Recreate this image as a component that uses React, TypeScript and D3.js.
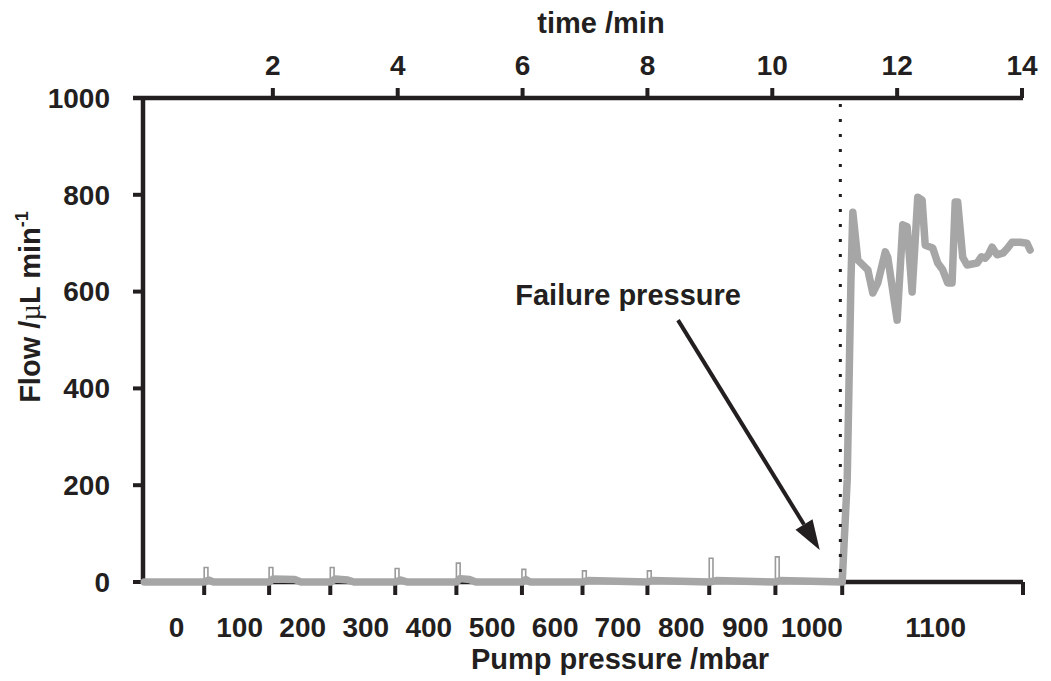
import React from "react";
import { scaleLinear, line } from "d3";

// top axis (time) ticks
const timeTicks = [2, 4, 6, 8, 10, 12, 14];
// left axis ticks
const flowTicks = [0, 200, 400, 600, 800, 1000];
// pressure labels along the bottom, one per pressure step
const pressureLabels = ["0", "100", "200", "300", "400", "500", "600", "700", "800", "900", "1000", "1100"];
// times (min) where the pump pressure was stepped up
const stepTimes = [0.9, 1.94, 2.92, 3.96, 4.94, 5.99, 6.96, 8.0, 8.99, 10.05, 11.12];
const failureTime = 11.09;

// small flow transients at every step (thin trace)
const spikeHeights = [30, 30, 30, 28, 39, 26, 23, 23, 49, 52];

// main flow trace
const flowTime = [
  -0.06, 0.9, 0.97, 1.05, 1.94, 2.0, 2.35, 2.45, 2.92, 3.0, 3.2, 3.3, 3.96, 4.05, 4.15,
  4.94, 5.0, 5.15, 5.25, 5.99, 6.05, 6.12, 6.96, 7.05, 8.0, 8.08, 8.99, 9.1, 10.05, 10.12,
  11.12, 11.2, 11.23, 11.26, 11.29, 11.37, 11.53, 11.61, 11.69, 11.81, 11.85, 12.0, 12.09,
  12.16, 12.24, 12.33, 12.4, 12.45, 12.57, 12.65, 12.73, 12.81, 12.88, 12.93, 12.97, 13.05,
  13.12, 13.28, 13.35, 13.41, 13.46, 13.52, 13.6, 13.7, 13.77, 13.84, 13.97, 14.08, 14.13,
];
const flowValue = [
  0, 0, 4, 0, 0, 6, 5, 0, 0, 6, 4, 0, 0, 4, 0,
  0, 7, 5, 0, 0, 5, 0, 0, 3, 0, 3, 0, 3, 0, 3,
  0, 211, 417, 624, 764, 665, 645, 597, 618, 682, 671, 541, 738,
  734, 599, 795, 789, 696, 690, 659, 645, 618, 618, 785, 785, 671,
  655, 659, 672, 669, 676, 692, 676, 680, 690, 702, 702, 700, 686,
];

// annotation
const annoText = "Failure pressure";
const annoPos = [7.69, 572];
const arrowFrom = [8.49, 541];
const arrowTo = [10.76, 66];

const ink = "#231f20";
const trace = "#a6a6a6";
const font = "'Liberation Sans', Arial, Helvetica, sans-serif";

export default function App() {
  const width = 1051;
  const height = 681;
  const left = 143;
  const top = 98;
  const bottom = 582;
  const right = 1023;

  const x = scaleLinear().domain([0, 14]).range([148, 1022]);
  const y = scaleLinear().domain([0, 1000]).range([bottom, top]);

  const flowLine = line<number>()
    .x((d, i) => x(flowTime[i]))
    .y((d) => y(d));

  const spikeW = 0.06;
  const spikeLine = line<[number, number]>()
    .x((d) => x(d[0]))
    .y((d) => y(d[1]));

  // boundaries of pressure steps for label placement
  const edges = [x.invert(left), ...stepTimes, x.invert(right)];

  const ax = x(arrowFrom[0]);
  const ay = y(arrowFrom[1]);
  const tx = x(arrowTo[0]);
  const ty = y(arrowTo[1]);
  const ang = Math.atan2(ty - ay, tx - ax);
  const headLen = 30;
  const headHalf = 10;
  const bx = tx - headLen * Math.cos(ang);
  const by = ty - headLen * Math.sin(ang);
  const px = -Math.sin(ang) * headHalf;
  const py = Math.cos(ang) * headHalf;

  return (
    <svg
      width={width}
      height={height}
      style={{ position: "absolute", left: 0, top: 0, background: "white" }}
      fontFamily={font}
      fontWeight="bold"
    >
      {/* top time axis */}
      <line x1={left - 10} x2={right} y1={top} y2={top} stroke={ink} strokeWidth={4.5} />
      {timeTicks.map((t) => (
        <g key={"tt" + t}>
          <line x1={x(t)} x2={x(t)} y1={top} y2={top - 10} stroke={ink} strokeWidth={4} />
          <text x={x(t)} y={75} textAnchor="middle" fontSize={28} fill={ink}>
            {t}
          </text>
        </g>
      ))}
      <text x={601} y={33} textAnchor="middle" fontSize={29} fill={ink}>
        time /min
      </text>

      {/* left flow axis */}
      <line x1={left} x2={left} y1={top - 2} y2={bottom + 2} stroke={ink} strokeWidth={4.5} />
      {flowTicks.map((v) => (
        <g key={"ft" + v}>
          <line x1={left - 10} x2={left} y1={y(v)} y2={y(v)} stroke={ink} strokeWidth={4} />
          <text x={110} y={y(v)} dy="0.35em" textAnchor="end" fontSize={28} fill={ink}>
            {v}
          </text>
        </g>
      ))}
      <text transform="translate(40,307) rotate(-90)" textAnchor="middle" fontSize={29} fill={ink}>
        Flow /
        <tspan fontFamily="'Liberation Serif', 'DejaVu Serif', serif" fontWeight="normal">
          µ
        </tspan>
        L min
        <tspan fontSize={18} dy={-12}>
          -1
        </tspan>
      </text>

      {/* bottom pressure axis */}
      <line x1={left} x2={right} y1={bottom} y2={bottom} stroke={ink} strokeWidth={4.5} />
      {[...stepTimes, x.invert(right)].map((t, i) => (
        <line key={"bt" + i} x1={x(t)} x2={x(t)} y1={bottom} y2={bottom + 13} stroke={ink} strokeWidth={4} />
      ))}
      {pressureLabels.map((p, i) => (
        <text
          key={"pl" + p}
          x={(x(edges[i]) + x(edges[i + 1])) / 2 + 3}
          y={637}
          textAnchor="middle"
          fontSize={28}
          fill={ink}
        >
          {p}
        </text>
      ))}
      <text x={620} y={669} textAnchor="middle" fontSize={29} fill={ink}>
        Pump pressure /mbar
      </text>

      {/* thin transient trace */}
      {spikeHeights.map((h, i) => {
        const t = stepTimes[i];
        const pts: [number, number][] = [
          [t, 0],
          [t, h],
          [t + spikeW, h],
          [t + spikeW, 0],
        ];
        return (
          <path key={"sp" + i} d={spikeLine(pts) || ""} fill="none" stroke="#9a9a9a" strokeWidth={1.6} />
        );
      })}

      {/* main flow trace */}
      <path
        d={flowLine(flowValue) || ""}
        fill="none"
        stroke={trace}
        strokeWidth={7.5}
        strokeLinejoin="round"
        strokeLinecap="round"
      />

      {/* failure marker */}
      <line
        x1={x(failureTime)}
        x2={x(failureTime)}
        y1={top + 6}
        y2={bottom}
        stroke={ink}
        strokeWidth={3}
        strokeDasharray="3,12"
      />

      {/* annotation */}
      <text x={x(annoPos[0])} y={y(annoPos[1])} textAnchor="middle" fontSize={29} fill={ink}>
        {annoText}
      </text>
      <line x1={ax} y1={ay} x2={bx} y2={by} stroke={ink} strokeWidth={4} />
      <path d={`M${tx},${ty}L${bx + px},${by + py}L${bx - px},${by - py}Z`} fill={ink} />
    </svg>
  );
}
